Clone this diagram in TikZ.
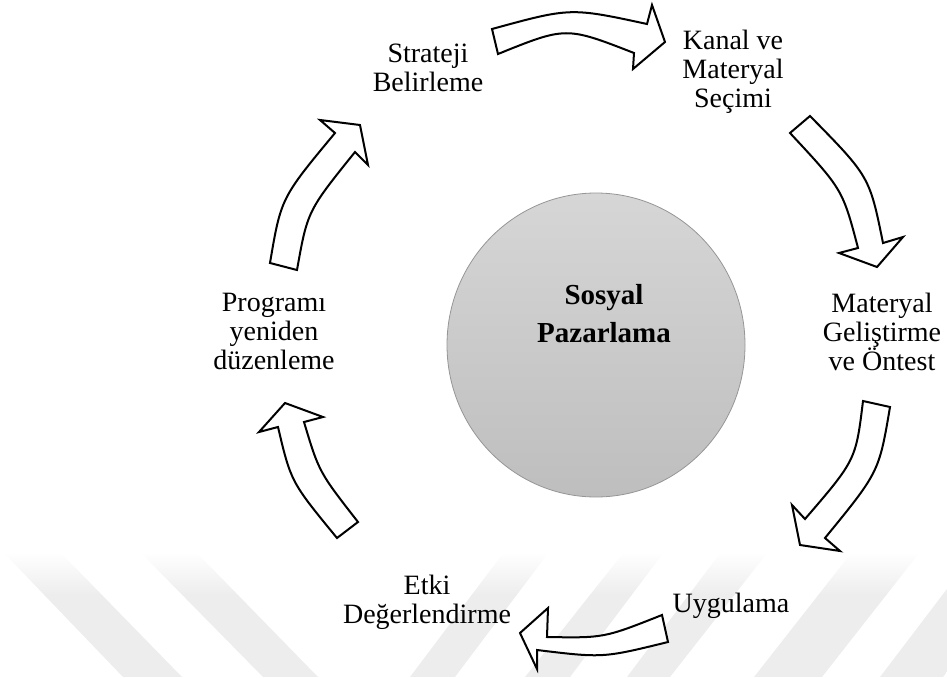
\documentclass[tikz,border=0pt]{standalone}
\usepackage{fontspec}
\setmainfont{Liberation Serif}
\usetikzlibrary{shapes.geometric}
\definecolor{wmgray}{RGB}{237,237,237}
\definecolor{coretop}{RGB}{214,214,214}
\definecolor{corebot}{RGB}{190,190,190}
\definecolor{coreline}{RGB}{150,150,150}
\begin{document}
\begin{tikzpicture}[x=1pt,y=-1pt,
  lbl/.style={align=center, font=\fontsize{28}{29}\selectfont, inner sep=0pt},
  blockarrow/.style={draw=black, fill=white, line width=2pt, line join=miter},
  ]
\useasboundingbox (0,0) rectangle (947,677);

% faint diagonal bands along the bottom edge
\begin{scope}
  \clip (3,552) -- (60,552) -- (182,677) -- (123,677) -- cycle
        (140,552) -- (196,552) -- (318,677) -- (263,677) -- cycle
        (504,552) -- (549,552) -- (455,677) -- (410,677) -- cycle
        (624,552) -- (664,552) -- (570,677) -- (525,677) -- cycle
        (721,552) -- (768,552) -- (670,677) -- (627,677) -- cycle
        (852,552) -- (920,552) -- (822,677) -- (754,677) -- cycle
        (975,552) -- (1040,552) -- (943,677) -- (880,677) -- cycle;
  \shade[top color=white, bottom color=wmgray] (0,552) rectangle (947,595);
  \fill[wmgray] (0,595) rectangle (947,677);
\end{scope}

% central ellipse
\node[ellipse, minimum width=298, minimum height=304, draw=coreline, line width=0.8pt,
      top color=coretop, bottom color=corebot] (core) at (596,345) {};
\node[align=center, inner sep=0pt, font=\bfseries\fontsize{29}{38}\selectfont] (coretext) at (604,314) {Sosyal\\Pazarlama};

% stage labels
\node[lbl] (strat) at (428,67.5) {Strateji\\Belirleme};
\node[lbl] (kanal) at (733,71.5) {Kanal ve\\Materyal\\Seçimi};
\node[lbl] (mat) at (882,332) {Materyal\\Geliştirme\\ve Öntest};
\node[lbl] (uyg) at (731,605.5) {Uygulama};
\node[lbl] (etki) at (427,602.5) {Etki\\Değerlendirme};
\node[lbl] (prog) at (274,331) {Programı\\yeniden\\düzenleme};

% curved block arrows of the cycle
\draw[blockarrow] (492,29) .. controls (570.5,7.5) .. (647,24) -- (652,5) -- (665,42)
  -- (633,69) -- (634,53) .. controls (566,26.5) .. (498,54) -- cycle;
\draw[blockarrow] (810,116) .. controls (869.5,176.5) .. (883,243) -- (903,237) -- (877,267)
  -- (839,253) -- (858,248) .. controls (842.6,189.5) .. (790,133) -- cycle;
\draw[blockarrow] (890,407) .. controls (879,472) .. (825,538) -- (840,551) -- (800,545)
  -- (792,505) -- (805,519) .. controls (855.8,460) .. (863,401) -- cycle;
\draw[blockarrow] (662,615) .. controls (604,638) .. (547,637) -- (548,608) -- (520,633)
  -- (537,669) -- (537,650) .. controls (603,658) .. (668,642) -- cycle;
\draw[blockarrow] (358,522) .. controls (319,472) .. (304,422) -- (323,417) -- (285,403)
  -- (259,432) -- (278,427) .. controls (291,482) .. (337,538) -- cycle;
\draw[blockarrow] (270,263) .. controls (281,198) .. (335,133) -- (320,120) -- (360,125)
  -- (368,165) -- (355,152) .. controls (307.5,211) .. (297,270) -- cycle;
\end{tikzpicture}
\end{document}
